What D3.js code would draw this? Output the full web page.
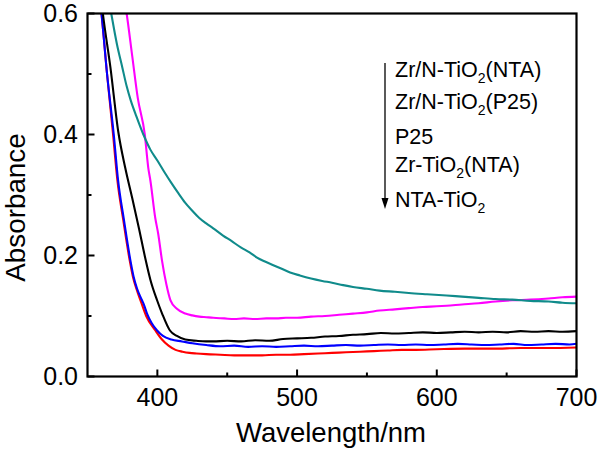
<!DOCTYPE html>
<html><head><meta charset="utf-8">
<script src="https://cdn.jsdelivr.net/npm/d3@7"></script>
<style>body{margin:0;background:#fff}svg{display:block}text{font-family:"Liberation Sans",Arial,sans-serif;fill:#000}</style>
</head><body><svg id="c" width="600" height="451"></svg>
<script>
// ---- data ----
const xTicks = [400, 500, 600, 700];
const xMinor = [450, 550, 650];
const yTicks = [0.0, 0.2, 0.4, 0.6];
const yMinor = [0.1, 0.3, 0.5];
const xTitle = "Wavelength/nm";
const yTitle = "Absorbance";

const tealX = [364,367,371,375,378,381,385,390,395,400,405,410,415,420,425,430,435,440,447,453,460,466,471,477,483,489,495,502,510,518,525,533,540,550,559,570,580,593,607,618,630,642,654,667,680,690,700];
const tealY = [0.64,0.60,0.55,0.51,0.48,0.456,0.43,0.40,0.375,0.357,0.338,0.32,0.303,0.287,0.274,0.262,0.253,0.245,0.233,0.224,0.213,0.205,0.197,0.190,0.184,0.178,0.172,0.167,0.162,0.158,0.155,0.151,0.148,0.145,0.142,0.140,0.138,0.136,0.134,0.132,0.130,0.128,0.127,0.125,0.124,0.122,0.121];

const magX = [375,378,382,386,391,393.5,395,398.5,400.6,403.3,406.4,409.4,414,420,425,430,435,440,448,455,462,470,478,485,492,500,510,520,530,540,550,559,570,580,590,600,607,618,630,642,654,667,680,690,700];
const magY = [0.64,0.60,0.53,0.46,0.40,0.345,0.324,0.262,0.236,0.192,0.153,0.126,0.112,0.104,0.101,0.099,0.098,0.097,0.096,0.095,0.096,0.095,0.096,0.096,0.097,0.097,0.099,0.100,0.102,0.104,0.106,0.109,0.111,0.113,0.115,0.116,0.117,0.119,0.121,0.124,0.126,0.127,0.129,0.131,0.132];

const blkX = [359,361,366.4,372,377,382,387,391.4,395,399.8,403.4,409,414,420,428,435,440,450,460,470,480,490,500,510,520,530,540,550,560,570,580,590,600,610,620,630,640,650,660,670,680,690,700];
const blkY = [0.64,0.60,0.511,0.405,0.345,0.295,0.243,0.195,0.160,0.126,0.104,0.076,0.067,0.061,0.059,0.058,0.058,0.059,0.058,0.060,0.059,0.062,0.063,0.064,0.066,0.067,0.069,0.070,0.072,0.071,0.072,0.073,0.072,0.073,0.074,0.073,0.074,0.073,0.075,0.074,0.075,0.074,0.075];

const bluX = [358,360,364,368.8,371.9,376,380.7,383,385.5,389,390.5,392.6,396,399.8,404,410,417.6,425,435,445,455,465,475,485,495,505,515,525,535,545,555,565,575,585,595,605,615,625,635,645,655,665,675,685,695,700];
const bluY = [0.64,0.60,0.50,0.40,0.324,0.26,0.192,0.165,0.145,0.126,0.118,0.104,0.088,0.076,0.067,0.061,0.058,0.055,0.052,0.050,0.051,0.049,0.050,0.049,0.050,0.051,0.050,0.051,0.052,0.051,0.052,0.053,0.052,0.053,0.052,0.053,0.054,0.053,0.052,0.053,0.054,0.052,0.053,0.054,0.053,0.054];

const redX = [358,360,364,368.3,371.4,375.5,380.2,382.5,385,388.5,392,398.6,403,408,413,418,423,428,435,445,455,465,475,485,495,505,515,525,535,545,555,565,575,585,600,620,640,660,680,700];
const redY = [0.64,0.60,0.50,0.40,0.324,0.26,0.192,0.165,0.145,0.122,0.100,0.076,0.062,0.051,0.044,0.041,0.039,0.038,0.037,0.036,0.035,0.035,0.035,0.036,0.036,0.037,0.038,0.039,0.040,0.041,0.042,0.043,0.044,0.044,0.045,0.046,0.046,0.047,0.047,0.048];

const seriesNames = ["Zr/N-TiO2(NTA)", "Zr/N-TiO2(P25)", "P25", "Zr-TiO2(NTA)", "NTA-TiO2"];
const seriesColors = ["#108b8b", "#ff00ff", "#000000", "#0000ff", "#ff0000"];
// legend labels split into [main, subscript, rest]
const legendParts = [["Zr/N-TiO","2","(NTA)"],["Zr/N-TiO","2","(P25)"],["P25","",""],["Zr-TiO","2","(NTA)"],["NTA-TiO","2",""]];

// ---- drawing ----
const svg = d3.select("#c");
const L = 87.5, R = 576.5, T = 13.5, B = 376.5;
const x = d3.scaleLinear().domain([350, 700]).range([L, R]);
const y = d3.scaleLinear().domain([0, 0.6]).range([B, T]);

svg.append("defs").append("clipPath").attr("id","clip")
  .append("rect").attr("x",L).attr("y",T).attr("width",R-L).attr("height",B-T);

const series = [
  {xs: redX, ys: redY, c: seriesColors[4]},
  {xs: bluX, ys: bluY, c: seriesColors[3]},
  {xs: blkX, ys: blkY, c: seriesColors[2]},
  {xs: magX, ys: magY, c: seriesColors[1]},
  {xs: tealX, ys: tealY, c: seriesColors[0]}
];
const line = d3.line().curve(d3.curveMonotoneX).x(d => x(d[0])).y(d => y(d[1]));
const gl = svg.append("g").attr("clip-path","url(#clip)");
series.forEach(s => {
  gl.append("path").attr("d", line(s.xs.map((v,i)=>[v, s.ys[i]])))
    .attr("fill","none").attr("stroke", s.c).attr("stroke-width", 2.1).attr("stroke-linejoin","round");
});

// ticks (inward)
const ax = svg.append("g").attr("stroke","#000").attr("stroke-width",2);
xTicks.forEach(t => ax.append("line").attr("x1",x(t)).attr("x2",x(t)).attr("y1",B).attr("y2",B-7));
xMinor.forEach(t => ax.append("line").attr("x1",x(t)).attr("x2",x(t)).attr("y1",B).attr("y2",B-4));
yTicks.forEach(t => ax.append("line").attr("y1",y(t)).attr("y2",y(t)).attr("x1",L).attr("x2",L+7));
yMinor.forEach(t => ax.append("line").attr("y1",y(t)).attr("y2",y(t)).attr("x1",L).attr("x2",L+4));
svg.append("rect").attr("x",L).attr("y",T).attr("width",R-L).attr("height",B-T)
  .attr("fill","none").attr("stroke","#000").attr("stroke-width",2.2);

// tick labels
xTicks.forEach(t => svg.append("text").attr("x",x(t)).attr("y",405.5)
  .attr("text-anchor","middle").attr("font-size",25).text(t));
yTicks.forEach(t => svg.append("text").attr("x",78).attr("y",y(t)+8.5)
  .attr("text-anchor","end").attr("font-size",25).text(d3.format(".1f")(t)));

// axis titles
svg.append("text").attr("x",331).attr("y",442)
  .attr("text-anchor","middle").attr("font-size",27.5).text(xTitle);
svg.append("text").attr("transform",`translate(24.5,207.5) rotate(-90)`)
  .attr("text-anchor","middle").attr("font-size",27.8).text(yTitle);

// legend
const baselines = [77, 109, 144, 172, 207];
legendParts.forEach((p,i) => {
  const t = svg.append("text").attr("x",395).attr("y",baselines[i]).attr("font-size",21.5);
  t.append("tspan").text(p[0]);
  if (p[1]) t.append("tspan").attr("font-size",14).attr("dy",6).text(p[1]);
  if (p[2]) t.append("tspan").attr("dy",-6).text(p[2]);
});
svg.append("line").attr("x1",385).attr("x2",385).attr("y1",63).attr("y2",200)
  .attr("stroke","#000").attr("stroke-width",1.3);
svg.append("path").attr("d","M381.5,198 L388.5,198 L385,209 Z").attr("fill","#000");
</script></body></html>
